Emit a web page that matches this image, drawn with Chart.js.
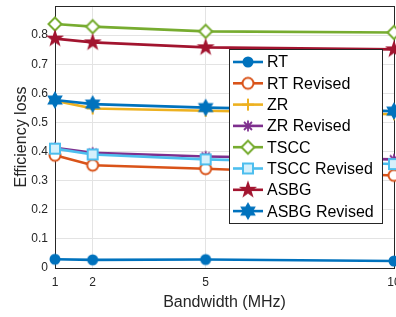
<!DOCTYPE html>
<html>
<head>
<meta charset="utf-8">
<script src="https://cdn.jsdelivr.net/npm/chart.js@4/dist/chart.umd.min.js"></script>
<style>
  body { margin: 0; background: #fff; }
  #wrap { width: 396px; height: 317px; }
</style>
</head>
<body>
<div id="wrap"><canvas id="lossChart" width="396" height="317"></canvas></div>
<script>
// data
const bandwidth = [1, 2, 5, 10];
const xTicks = [1, 2, 5, 10];
const yTicks = [0, 0.1, 0.2, 0.3, 0.4, 0.5, 0.6, 0.7, 0.8];

const rt          = [0.030, 0.028, 0.029, 0.024];
const rtRevised   = [0.387, 0.353, 0.341, 0.318];
const zr          = [0.575, 0.548, 0.540, 0.528];
const zrRevised   = [0.413, 0.396, 0.383, 0.373];
const tscc        = [0.838, 0.829, 0.813, 0.809];
const tsccRevised = [0.410, 0.390, 0.373, 0.357];
const asbg        = [0.788, 0.775, 0.758, 0.751];
const asbgRevised = [0.577, 0.563, 0.551, 0.539];

const seriesNames = ["RT", "RT Revised", "ZR", "ZR Revised", "TSCC", "TSCC Revised", "ASBG", "ASBG Revised"];

// marker images, MATLAB style
function makeMarker(shape, color, fill) {
  const s = 22, c = s / 2;
  const cv = document.createElement('canvas');
  cv.width = s; cv.height = s;
  const g = cv.getContext('2d');
  g.strokeStyle = color;
  g.fillStyle = fill || color;
  g.lineWidth = 2;
  g.lineJoin = 'miter';
  g.beginPath();
  if (shape === 'dot') {
    g.arc(c, c, 5.5, 0, Math.PI * 2);
    g.fill();
    return cv;
  }
  if (shape === 'circle') {
    g.arc(c, c, 5.5, 0, Math.PI * 2);
    g.fill(); g.stroke();
  } else if (shape === 'plus') {
    g.moveTo(c - 6, c); g.lineTo(c + 6, c);
    g.moveTo(c, c - 6); g.lineTo(c, c + 6);
    g.stroke();
  } else if (shape === 'asterisk') {
    g.lineWidth = 1.8;
    g.moveTo(c - 5.5, c); g.lineTo(c + 5.5, c);
    g.moveTo(c, c - 5.5); g.lineTo(c, c + 5.5);
    g.moveTo(c - 4, c - 4); g.lineTo(c + 4, c + 4);
    g.moveTo(c - 4, c + 4); g.lineTo(c + 4, c - 4);
    g.stroke();
  } else if (shape === 'diamond') {
    g.moveTo(c, c - 6.5); g.lineTo(c + 6.5, c); g.lineTo(c, c + 6.5); g.lineTo(c - 6.5, c);
    g.closePath(); g.fill(); g.stroke();
  } else if (shape === 'square') {
    g.rect(c - 5, c - 5, 10, 10);
    g.fill(); g.stroke();
  } else if (shape === 'star') {
    const R = 9.5, r = 3.8;
    for (let i = 0; i < 10; i++) {
      const a = -Math.PI / 2 + i * Math.PI / 5;
      const rr = i % 2 ? r : R;
      g.lineTo(c + rr * Math.cos(a), c + rr * Math.sin(a));
    }
    g.closePath(); g.fill();
  } else if (shape === 'hexagram') {
    const R = 9, r = 5.2;
    for (let i = 0; i < 12; i++) {
      const a = -Math.PI / 2 + i * Math.PI / 6;
      const rr = i % 2 ? r : R;
      g.lineTo(c + rr * Math.cos(a), c + rr * Math.sin(a));
    }
    g.closePath(); g.fill();
  }
  return cv;
}

const colors = ['#0072BD', '#D95319', '#EDB120', '#7E2F8E', '#77AC30', '#4DBEEE', '#A2142F', '#0072BD'];
const markers = [
  makeMarker('dot', colors[0]),
  makeMarker('circle', colors[1], '#fff'),
  makeMarker('plus', colors[2]),
  makeMarker('asterisk', colors[3]),
  makeMarker('diamond', colors[4], '#fff'),
  makeMarker('square', colors[5], '#d6f0fb'),
  makeMarker('star', colors[6]),
  makeMarker('hexagram', colors[7])
];
const allSeries = [rt, rtRevised, zr, zrRevised, tscc, tsccRevised, asbg, asbgRevised];

const datasets = allSeries.map((vals, i) => ({
  label: seriesNames[i],
  data: vals.map((v, k) => ({ x: bandwidth[k], y: v })),
  borderColor: colors[i],
  backgroundColor: colors[i],
  borderWidth: 2.6,
  pointStyle: markers[i],
  pointRadius: 6,
  clip: false,
  order: allSeries.length - i
}));

// axes box + legend inside plot
const boxAndLegend = {
  id: 'boxAndLegend',
  beforeDatasetsDraw(chart) {
    const a = chart.chartArea, ctx = chart.ctx;
    ctx.save();
    ctx.strokeStyle = '#262626';
    ctx.lineWidth = 1;
    ctx.strokeRect(a.left + 0.5, a.top + 0.5, a.right - a.left, a.bottom - a.top);
    ctx.restore();
  },
  afterDraw(chart) {
    const ctx = chart.ctx;
    ctx.save();
    ctx.fillStyle = '#fff';
    ctx.fillRect(229, 49, 153, 174);
    ctx.strokeStyle = '#262626';
    ctx.lineWidth = 1;
    ctx.strokeRect(229.5, 49.5, 153, 174);
    ctx.font = '16px "Liberation Sans", Arial, sans-serif';
    ctx.textBaseline = 'middle';
    seriesNames.forEach((name, i) => {
      const y = 62 + i * 21.3;
      ctx.strokeStyle = colors[i];
      ctx.lineWidth = 2.6;
      ctx.beginPath();
      ctx.moveTo(233, y); ctx.lineTo(263, y);
      ctx.stroke();
      const m = markers[i];
      ctx.drawImage(m, 248 - m.width / 2, y - m.height / 2);
      ctx.fillStyle = '#000';
      ctx.fillText(name, 267, y + 1);
    });
    ctx.restore();
  }
};

const tickFont = { family: '"Liberation Sans", Arial, sans-serif', size: 12 };
const titleFont = { family: '"Liberation Sans", Arial, sans-serif', size: 16 };

new Chart(document.getElementById('lossChart').getContext('2d'), {
  type: 'line',
  data: { datasets: datasets },
  options: {
    responsive: false,
    animation: false,
    layout: { autoPadding: false, padding: { top: 6, right: 2, left: 0, bottom: 0 } },
    plugins: { legend: { display: false }, tooltip: { enabled: false } },
    scales: {
      x: {
        type: 'linear',
        min: 1, max: 10,
        afterBuildTicks: s => { s.ticks = xTicks.map(v => ({ value: v })); },
        afterFit: s => { s.height = 49; s.paddingRight = 0; s.paddingLeft = 0; },
        grid: { color: '#e3e3e3', drawTicks: false },
        border: { color: '#262626' },
        ticks: { font: tickFont, color: '#262626', padding: 7, maxRotation: 0 },
        title: { display: true, text: 'Bandwidth (MHz)', font: titleFont, color: '#262626', padding: { top: 0, bottom: 5 } }
      },
      y: {
        min: 0, max: 0.9,
        afterBuildTicks: s => { s.ticks = yTicks.map(v => ({ value: v })); },
        afterFit: s => { s.width = 55; s.paddingTop = 0; s.paddingBottom = 0; },
        grid: { color: '#e3e3e3', drawTicks: false },
        border: { color: '#262626' },
        ticks: { font: tickFont, color: '#262626', padding: 7, callback: v => v === 0 ? '0' : v.toFixed(1) },
        title: { display: true, text: 'Efficiency loss', font: titleFont, color: '#262626', padding: { top: 12, bottom: 0 } }
      }
    }
  },
  plugins: [boxAndLegend]
});
</script>
</body>
</html>
